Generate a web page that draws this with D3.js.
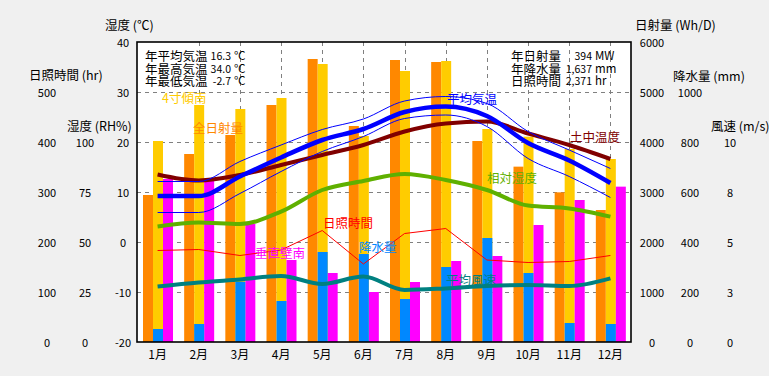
<!DOCTYPE html>
<html><head><meta charset="utf-8">
<script src="https://cdn.jsdelivr.net/npm/d3@7"></script>
<style>
body{margin:0;background:#f0f0f0;}
svg{display:block;font-family:"Noto Sans CJK JP","Noto Sans",sans-serif;}
</style>
</head><body>
<svg id="c" width="769" height="376"></svg>
<script>
// ---- data ----
const months = ["1月","2月","3月","4月","5月","6月","7月","8月","9月","10月","11月","12月"];
const solarAll  = [2940,3760,4140,4740,5660,4320,5640,5600,4020,3507,2993,2640]; // 全日射量 Wh/D
const solarTilt = [4020,4740,4660,4880,5560,4120,5420,5620,4260,4107,3860,3660]; // 4寸傾南 Wh/D
const solarWall = [3260,3220,2360,1640,1380,1000,1200,1620,1720,2340,2840,3107]; // 垂直壁南 Wh/D
const precip    = [52,72,241,164,360,352,172,300,416,276,76,72];                 // 降水量 mm
const tempAvg   = [9.2,9.2,13.1,16.9,20.4,22.6,26.0,27.1,25.2,19.8,16.3,11.8];   // 平均気温 ℃
const tempMax   = [12.1,12.1,16.1,19.4,22.5,24.6,28.2,29.1,27.7,22.1,18.4,14.7];
const tempMin   = [5.9,5.9,9.7,14.1,18.1,21.1,24.7,25.4,23.1,16.7,13.1,8.9];
const soilTemp  = [13.5,12.3,13.4,15.4,17.4,19.4,22.1,23.7,24.1,21.7,19.4,16.6]; // 土中温度 ℃
const humidity  = [57.8,59.7,59,65.2,76,80.5,84,81,76,68.2,66.8,62.7];           // 相対湿度 %
const sunshine  = [183,185,173,184,223,156,217,227,164,159,161,173];             // 日照時間 hr
const wind      = [2.77,2.97,3.13,3.3,2.9,3.27,2.6,2.68,2.8,2.85,2.8,3.18];      // 平均風速 m/s

const tempTicks   = [40,30,20,10,0,-10,-20];
const sunTicks    = [500,400,300,200,100,0];
const rhTicks     = [100,75,50,25,0];
const solarTicks  = [6000,5000,4000,3000,2000,1000,0];
const precipTicks = [1000,800,600,400,200,0];
const windTicks   = [10,7.5,5,2.5,0];

const statLeftLabels  = ["年平均気温","年最高気温","年最低気温"];
const statLeftValues  = ["16.3","34.0","-2.7"];
const statLeftUnits   = ["℃","℃","℃"];
const statRightLabels = ["年日射量","年降水量","日照時間"];
const statRightValues = ["394","1,637","2,371"];
const statRightUnits  = ["MW","mm","hr"];

// ---- layout ----
const L = 137, R = 631, T = 42, B = 342;
const svg = d3.select("#c");
const fs = 12.5, fsNum = 11;

const x = d3.scaleBand().domain(months).range([L, R]).padding(0);
const bw = x.bandwidth();
const cx = m => x(m) + bw / 2;

const yTemp   = d3.scaleLinear().domain([-20, 40]).range([B, T]);
const ySun    = d3.scaleLinear().domain([0, 600]).range([B, T]);
const yRH     = d3.scaleLinear().domain([0, 100]).range([B, B - 200]);
const ySolar  = d3.scaleLinear().domain([0, 6000]).range([B, T]);
const yPrecip = d3.scaleLinear().domain([0, 1200]).range([B, T]);
const yWind   = d3.scaleLinear().domain([0, 10]).range([B, B - 200]);

// plot background
svg.append("rect").attr("x", L).attr("y", T).attr("width", R - L).attr("height", B - T).attr("fill", "#fff");

// grid
const grid = svg.append("g").attr("stroke", "#808080").attr("stroke-width", 1).attr("stroke-dasharray", "4,4");
[30, 20, 10, 0, -10].forEach(v => {
  const yy = Math.round(yTemp(v)) + 0.5;
  grid.append("line").attr("x1", L).attr("x2", R).attr("y1", yy).attr("y2", yy);
});
months.slice(1).forEach(m => {
  const xx = Math.round(x(m) + bw / 2) + 0.5;
  grid.append("line").attr("x1", xx).attr("x2", xx).attr("y1", T).attr("y2", B);
});

// bars
const bars = svg.append("g");
function barSeries(data, off, color, scale) {
  bars.selectAll(null).data(months).enter().append("rect")
    .attr("x", m => x(m) + off)
    .attr("width", 10)
    .attr("y", (m, i) => scale(data[i]))
    .attr("height", (m, i) => B - scale(data[i]))
    .attr("fill", color);
}
barSeries(solarAll, 6, "#ff8800", ySolar);
barSeries(solarTilt, 16, "#ffcc00", ySolar);
barSeries(solarWall, 26, "#ff00ff", ySolar);
barSeries(precip, 16, "#0088ff", yPrecip);

// lines
function lineSeries(data, scale, color, w, curve) {
  const gen = d3.line().x((d, i) => cx(months[i])).y(d => scale(d)).curve(curve);
  svg.append("path").datum(data).attr("d", gen).attr("fill", "none")
    .attr("stroke", color).attr("stroke-width", w).attr("stroke-linejoin", "round");
}
lineSeries(sunshine, ySun, "#ff0000", 1, d3.curveLinear);
lineSeries(wind, yWind, "#008080", 4, d3.curveMonotoneX);
lineSeries(humidity, yRH, "#5fb000", 4, d3.curveMonotoneX);
lineSeries(soilTemp, yTemp, "#800000", 4, d3.curveMonotoneX);
lineSeries(tempMax, yTemp, "#0000ff", 1, d3.curveMonotoneX);
lineSeries(tempMin, yTemp, "#0000ff", 1, d3.curveMonotoneX);
lineSeries(tempAvg, yTemp, "#0000ff", 4.5, d3.curveMonotoneX);

// border
svg.append("rect").attr("x", L).attr("y", T).attr("width", R - L).attr("height", B - T)
  .attr("fill", "none").attr("stroke", "#000").attr("stroke-width", 1.6);

// axis tick labels
function ticks(vals, scale, xpos, fmt) {
  svg.append("g").selectAll("text").data(vals).enter().append("text")
    .attr("x", xpos).attr("y", d => scale(d)).attr("text-anchor", "middle")
    .attr("dominant-baseline", "central").attr("font-size", fsNum).attr("fill", "#000")
    .text(fmt);
}
ticks(tempTicks, yTemp, 123, d => String(d));
ticks(sunTicks, ySun, 47, d => d);
ticks(rhTicks, yRH, 85, d => d);
ticks(solarTicks, ySolar, 652, d => d);
ticks(precipTicks, yPrecip, 690, d => d);
ticks(windTicks, yWind, 730, d => (+d).toFixed(0));

// axis titles
function title(t, xx, yy, anchor, size) {
  return svg.append("text").attr("x", xx).attr("y", yy).attr("text-anchor", anchor || "start")
    .attr("dominant-baseline", "central").attr("font-size", size || fs).attr("fill", "#000").text(t);
}
title("湿度 (℃)", 105, 24);
title("日照時間 (hr)", 29, 74);
title("湿度 (RH%)", 67, 125);
title("日射量 (Wh/D)", 635, 24);
title("降水量 (mm)", 673, 75);
title("風速 (m/s)", 711, 125);

// month labels
svg.append("g").selectAll("text").data(months).enter().append("text")
  .attr("x", m => cx(m)).attr("y", 353).attr("text-anchor", "middle")
  .attr("dominant-baseline", "central").attr("font-size", 12).text(m => m);

// stats blocks (one text element each, lines as tspans)
const statY = [55, 67.5, 80];
function statBlock(labelsArr, valuesArr, unitsArr, xLabel, xValEnd, xUnit) {
  const t = svg.append("text").attr("font-size", fs).attr("fill", "#000").attr("dominant-baseline", "central");
  labelsArr.forEach((lab, i) => {
    t.append("tspan").attr("x", xLabel).attr("y", statY[i]).text(lab);
    t.append("tspan").attr("x", xValEnd).attr("y", statY[i]).attr("text-anchor", "end")
      .attr("font-size", fsNum - 0.5).text(valuesArr[i]);
    t.append("tspan").attr("x", xUnit).attr("y", statY[i]).attr("font-size", fsNum + 0.5).text(unitsArr[i]);
  });
}
statBlock(statLeftLabels, statLeftValues, statLeftUnits, 145, 231, 234);
statBlock(statRightLabels, statRightValues, statRightUnits, 511, 592, 595);

// series labels
const labels = [
  ["4寸傾南", 162, 97, "#ffcc00"],
  ["全日射量", 193, 127, "#ff8800"],
  ["平均気温", 447, 98, "#0000ff"],
  ["土中温度", 570, 136, "#800000"],
  ["相対湿度", 487, 177, "#5fb000"],
  ["日照時間", 323, 222, "#ff0000"],
  ["垂直壁南", 255, 252, "#ff00ff"],
  ["降水量", 359, 246, "#0088ff"],
  ["平均風速", 446, 279, "#008080"]
];
labels.forEach(l => {
  svg.append("text").attr("x", l[1]).attr("y", l[2]).attr("dominant-baseline", "central")
    .attr("font-size", fs).attr("fill", l[3]).text(l[0]);
});
</script>
</body></html>
